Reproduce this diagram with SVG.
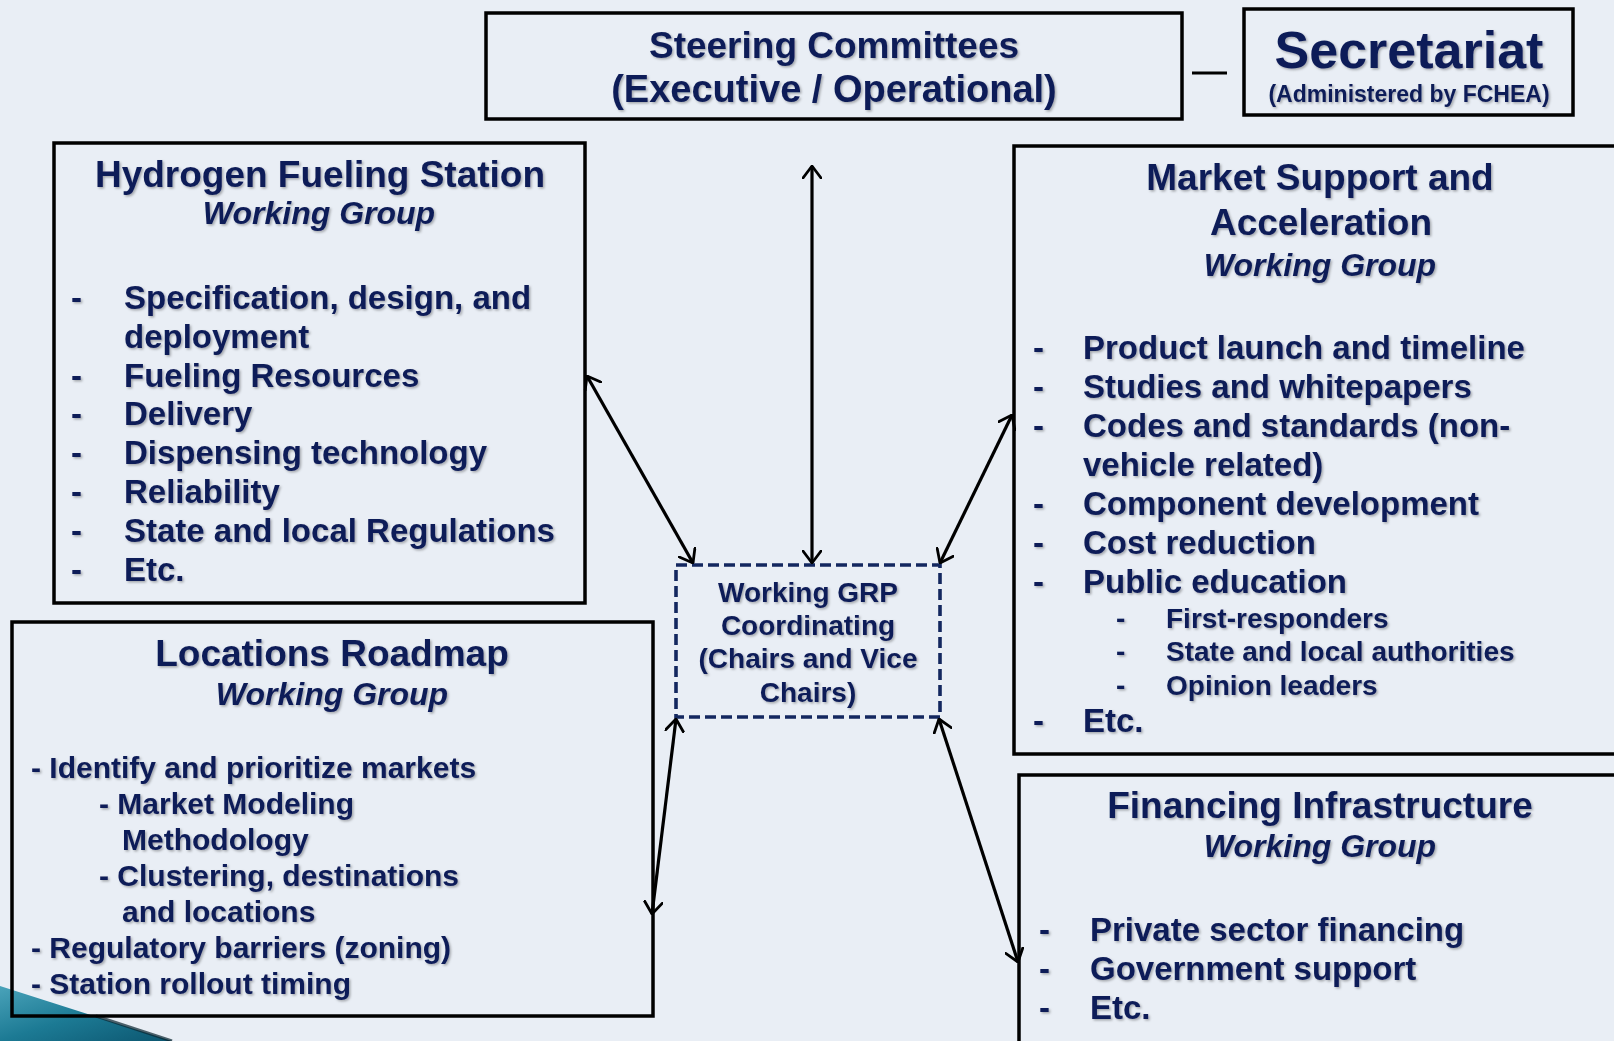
<svg xmlns="http://www.w3.org/2000/svg" width="1614" height="1041" viewBox="0 0 1614 1041">
  <style>
    .bx{fill:none;stroke:#000;stroke-width:3.5}
    .t{font-family:"Liberation Sans",Arial,Helvetica,sans-serif;font-weight:bold;fill:#101d58}
    .mid{text-anchor:middle}
    .ttl{font-size:37px}
    .wg{font-size:32px;font-style:italic}
    .it{font-size:33px}
    .li{font-size:30px}
    .sub{font-size:28px}
    .ctr{font-size:28px}
    .conn line{stroke:#000;stroke-width:3.2;marker-start:url(#ah);marker-end:url(#ah)}
  </style>
  <defs>
    <marker id="ah" viewBox="0 0 14 20" refX="13" refY="10" markerWidth="14" markerHeight="20" markerUnits="userSpaceOnUse" orient="auto-start-reverse">
      <path d="M1,1 L13,10 L1,19" fill="none" stroke="#000" stroke-width="2.8" stroke-linecap="round" stroke-linejoin="round"/>
    </marker>
    <filter id="sh" x="-5%" y="-20%" width="110%" height="140%">
      <feDropShadow dx="1.5" dy="1.5" stdDeviation="1" flood-color="#000" flood-opacity="0.3"/>
    </filter>
    <linearGradient id="teal" x1="0" y1="0" x2="1" y2="1">
      <stop offset="0" stop-color="#4aa3ba"/>
      <stop offset="0.5" stop-color="#1c7a94"/>
      <stop offset="1" stop-color="#0c5670"/>
    </linearGradient>
  </defs>

  <!-- page background and corner accent -->
  <rect width="1614" height="1041" fill="#e9eef5"/>
  <polygon points="0,986 172,1041 0,1041" fill="url(#teal)"/>
  <line x1="96" y1="1016" x2="172" y2="1041" stroke="#0a2530" stroke-width="3" opacity="0.7"/>

  <!-- Steering Committees -->
  <g id="steering">
    <rect class="bx" x="486" y="13" width="696" height="106"/>
    <g filter="url(#sh)">
      <text class="t mid" x="834" y="58" font-size="37">Steering Committees</text>
      <text class="t mid" x="834" y="102" font-size="38">(Executive / Operational)</text>
    </g>
  </g>

  <!-- Secretariat -->
  <g id="secretariat">
    <rect class="bx" x="1244" y="9" width="329" height="106"/>
    <g filter="url(#sh)">
      <text class="t mid" x="1409" y="68" font-size="52">Secretariat</text>
      <text class="t mid" x="1409" y="102" font-size="23">(Administered by FCHEA)</text>
    </g>
  </g>

  <!-- Hydrogen Fueling Station Working Group -->
  <g id="hydrogen">
    <rect class="bx" x="54" y="143" width="531" height="460"/>
    <g filter="url(#sh)">
      <text class="t mid ttl" x="320" y="187">Hydrogen Fueling Station</text>
      <text class="t mid wg" x="319" y="224">Working Group</text>
      <g class="t it">
        <text x="71" y="309">-</text><text x="124" y="309">Specification, design, and</text>
        <text x="124" y="348">deployment</text>
        <text x="71" y="387">-</text><text x="124" y="387">Fueling Resources</text>
        <text x="71" y="425">-</text><text x="124" y="425">Delivery</text>
        <text x="71" y="464">-</text><text x="124" y="464">Dispensing technology</text>
        <text x="71" y="503">-</text><text x="124" y="503">Reliability</text>
        <text x="71" y="542">-</text><text x="124" y="542">State and local Regulations</text>
        <text x="71" y="581">-</text><text x="124" y="581">Etc.</text>
      </g>
    </g>
  </g>

  <!-- Locations Roadmap Working Group -->
  <g id="locations">
    <rect class="bx" x="12" y="622" width="641" height="394"/>
    <g filter="url(#sh)">
      <text class="t mid ttl" x="332" y="666">Locations Roadmap</text>
      <text class="t mid wg" x="332" y="705">Working Group</text>
      <g class="t li">
        <text x="31" y="778">- Identify and prioritize markets</text>
        <text x="99" y="814">- Market Modeling</text>
        <text x="122" y="850">Methodology</text>
        <text x="99" y="886">- Clustering, destinations</text>
        <text x="122" y="922">and locations</text>
        <text x="31" y="958">- Regulatory barriers (zoning)</text>
        <text x="31" y="994">- Station rollout timing</text>
      </g>
    </g>
  </g>

  <!-- Working group coordination -->
  <g id="coordinating">
    <rect x="676" y="565" width="264" height="152" fill="none" stroke="#13275f" stroke-width="3.6" stroke-dasharray="11 5"/>
    <g filter="url(#sh)" class="t mid ctr">
      <text x="808" y="602">Working GRP</text>
      <text x="808" y="635">Coordinating</text>
      <text x="808" y="668">(Chairs and Vice</text>
      <text x="808" y="702">Chairs)</text>
    </g>
  </g>

  <!-- Market Support and Acceleration Working Group -->
  <g id="market">
    <rect class="bx" x="1014" y="146" width="604" height="608"/>
    <g filter="url(#sh)">
      <text class="t mid ttl" x="1320" y="190">Market Support and</text>
      <text class="t mid ttl" x="1321" y="235">Acceleration</text>
      <text class="t mid wg" x="1320" y="276">Working Group</text>
      <g class="t it">
        <text x="1033" y="359">-</text><text x="1083" y="359">Product launch and timeline</text>
        <text x="1033" y="398">-</text><text x="1083" y="398">Studies and whitepapers</text>
        <text x="1033" y="437">-</text><text x="1083" y="437">Codes and standards (non-</text>
        <text x="1083" y="476">vehicle related)</text>
        <text x="1033" y="515">-</text><text x="1083" y="515">Component development</text>
        <text x="1033" y="554">-</text><text x="1083" y="554">Cost reduction</text>
        <text x="1033" y="593">-</text><text x="1083" y="593">Public education</text>
        <text x="1033" y="732">-</text><text x="1083" y="732">Etc.</text>
      </g>
      <g class="t sub">
        <text x="1116" y="628">-</text><text x="1166" y="628">First-responders</text>
        <text x="1116" y="661">-</text><text x="1166" y="661">State and local authorities</text>
        <text x="1116" y="695">-</text><text x="1166" y="695">Opinion leaders</text>
      </g>
    </g>
  </g>

  <!-- Financing Infrastructure Working Group -->
  <g id="financing">
    <rect class="bx" x="1019" y="775" width="600" height="280"/>
    <g filter="url(#sh)">
      <text class="t mid ttl" x="1320" y="818">Financing Infrastructure</text>
      <text class="t mid wg" x="1320" y="857">Working Group</text>
      <g class="t it">
        <text x="1039" y="941">-</text><text x="1090" y="941">Private sector financing</text>
        <text x="1039" y="980">-</text><text x="1090" y="980">Government support</text>
        <text x="1039" y="1019">-</text><text x="1090" y="1019">Etc.</text>
      </g>
    </g>
  </g>

  <!-- connectors -->
  <g id="connectors" class="conn">
    <line x1="812" y1="166" x2="812" y2="563"/>
    <line x1="587" y1="376" x2="693" y2="563"/>
    <line x1="1012" y1="415" x2="940" y2="563"/>
    <line x1="676" y1="719" x2="652" y2="914"/>
    <line x1="939" y1="719" x2="1018" y2="962"/>
    <line x1="1192" y1="73" x2="1227" y2="73" style="marker:none"/>
  </g>
</svg>
